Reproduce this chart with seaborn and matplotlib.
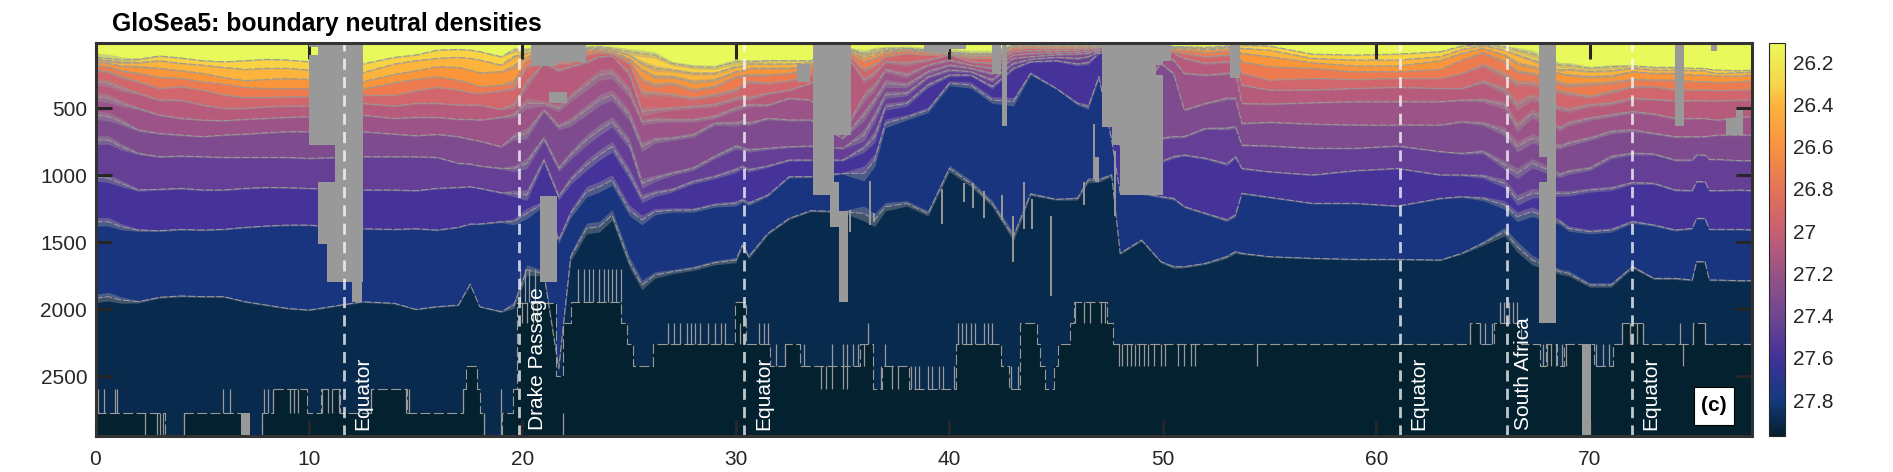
import numpy as np
import pandas as pd
import matplotlib
matplotlib.use("Agg")
import matplotlib.pyplot as plt
from matplotlib.colors import LinearSegmentedColormap, Normalize
from matplotlib.cm import ScalarMappable
from matplotlib.patches import Rectangle
import seaborn as sns

section_x = [0,0.6,1.2,2,3,4,5,6,7,8,9,10,12.5,14,15,16,17,17.55,18,19,19.6,20.2,21,21.7,22.26,23,23.6,24.2,25,25.6,26.2,27,28,29,30,30.3,30.6,31.5,32.5,33.5,35,36,36.5,37,38,39,40,41,42,43,43.8,45,46,46.5,47,47.6,48,49,49.9,50.5,51,52,53,53.4,53.7,55,57,59,61,63,64,65,66,66.6,67.3,68.6,69,70,71,72,73,74,74.8,75,75.4,75.6,76,77,77.6]

# depth (m) of each neutral-density boundary along the section, shallow to deep
b0 = [119,127,139,134,109,124,144,152,144,134,139,152,169,119,102,65,60,65,77,114,65,65,40,52,65,45,40,52,77,90,102,164,189,194,152,152,152,144,144,144,40,90,65,52,50,65,77,90,90,25,25,25,25,25,25,25,25,25,27,40,40,45,35,40,27,35,95,102,95,77,35,25,40,65,90,177,177,201,189,184,194,194,201,201,201,209,214,219,214]
b1 = [134,144,159,159,144,164,177,194,209,201,201,214,234,169,144,127,119,127,139,177,114,90,65,77,90,55,50,65,102,164,201,214,239,239,189,184,169,169,169,159,45,102,85,65,55,70,82,95,95,30,30,30,30,30,30,30,30,30,32,45,45,55,45,50,52,65,127,139,139,114,60,35,65,102,139,214,209,226,219,201,214,214,219,219,219,229,239,234,229]
b2 = [152,164,184,189,201,219,239,269,293,284,276,284,301,246,219,189,194,214,234,226,189,114,90,102,114,65,60,77,127,214,264,264,301,289,226,219,201,201,201,177,50,127,102,77,60,75,87,102,100,35,35,35,35,35,35,35,35,35,37,52,52,65,55,60,90,114,159,184,184,144,90,52,102,164,189,239,251,264,259,226,239,239,249,251,251,254,259,259,251]
b3 = [177,189,219,239,269,276,301,318,343,351,351,351,356,308,284,264,289,313,338,326,301,139,114,127,139,75,70,90,139,289,326,313,363,338,264,259,251,251,239,201,55,152,127,90,70,85,92,114,109,45,40,42,42,40,40,40,40,40,42,65,65,85,70,75,152,189,201,226,226,209,139,85,152,226,239,313,326,318,308,284,289,289,298,301,301,303,308,301,293]
b4 = [214,226,264,301,351,338,363,400,418,418,413,413,403,403,368,343,363,383,388,368,351,189,139,164,164,102,85,95,164,388,388,400,425,400,363,326,301,313,293,251,60,214,177,114,90,102,97,127,127,60,52,55,52,50,45,45,45,45,52,77,90,114,102,102,239,289,276,284,276,276,239,177,251,313,313,376,388,413,376,338,338,363,363,363,363,363,368,363,358]
b5 = [301,313,351,388,438,438,475,500,500,488,483,483,463,483,463,463,475,475,475,507,475,313,164,214,189,152,114,109,239,525,512,500,488,475,425,418,425,388,363,313,65,289,239,152,164,139,102,152,164,77,70,70,65,60,50,50,50,50,65,90,127,164,152,152,326,363,363,351,343,351,351,301,363,475,413,500,512,475,463,425,433,443,443,443,443,443,445,438,438]
b6 = [413,425,463,500,550,575,587,592,582,575,567,562,550,575,567,567,582,582,587,567,550,463,463,500,418,326,251,239,376,600,587,587,587,562,500,488,475,475,425,438,687,413,338,214,251,177,139,177,201,102,90,85,80,75,60,55,239,239,102,139,239,251,239,239,463,468,458,450,450,450,438,438,475,637,537,649,612,575,550,525,542,575,575,575,575,582,587,567,562]
b7 = [550,562,600,662,687,699,711,699,692,682,674,674,674,692,704,694,711,731,744,786,711,687,512,637,600,512,438,400,550,786,736,724,699,612,612,600,612,575,587,587,724,550,438,313,326,226,177,201,239,127,114,100,95,90,70,60,363,363,164,239,512,463,425,425,612,604,617,624,624,624,600,612,674,786,724,786,761,724,674,662,687,711,711,711,711,706,699,699,699]
b8 = [736,736,786,836,861,856,861,866,866,866,866,873,861,861,861,866,910,915,930,948,948,910,724,948,848,736,662,600,761,1060,1022,985,948,861,786,798,811,798,786,781,798,699,562,400,388,264,214,226,289,164,134,119,127,114,80,65,612,612,724,711,711,649,649,637,774,781,798,798,781,823,836,823,923,985,910,997,973,948,861,836,841,886,886,848,848,881,881,890,890]
b9 = [1010,1022,1060,1109,1104,1097,1109,1109,1097,1090,1092,1097,1109,1109,1114,1097,1090,1085,1097,1129,1134,1147,886,1159,1035,923,848,786,985,1172,1134,1109,1047,1010,960,935,960,930,886,886,886,798,711,488,463,326,251,251,338,201,152,144,169,159,90,77,786,786,898,861,848,873,915,861,948,973,997,965,948,997,997,1005,1060,1184,1134,1134,1134,1109,1097,1055,1060,1109,1114,1047,1047,1114,1114,1109,1114]
b10 = [1346,1346,1383,1408,1413,1403,1408,1403,1388,1378,1371,1371,1398,1403,1398,1408,1388,1363,1363,1346,1346,1284,1209,1483,1284,1122,1085,1035,1259,1333,1271,1259,1259,1221,1209,1184,1209,1147,1010,1010,985,985,886,612,567,512,313,326,438,450,239,351,463,488,264,736,1134,1134,1159,1172,1234,1284,1333,1296,1134,1164,1209,1209,1229,1172,1159,1172,1221,1308,1271,1346,1396,1420,1408,1346,1371,1408,1396,1321,1321,1403,1403,1403,1408]
b11 = [1918,1905,1930,1943,1910,1900,1905,1905,1943,1968,1993,2005,1943,1955,2000,1980,1968,1813,1980,2017,1968,1706,1731,2440,1607,1396,1383,1296,1644,1818,1744,1719,1694,1652,1632,1520,1607,1433,1321,1264,1271,1284,1333,1234,1209,1284,948,1060,1209,1458,1139,1179,1172,1035,1035,997,1582,1483,1644,1682,1682,1657,1607,1570,1582,1607,1619,1627,1627,1632,1582,1507,1420,1532,1632,1719,1731,1818,1818,1682,1769,1769,1781,1644,1644,1781,1781,1786,1786]
# spread of the jagged boundary traces (m) at each section_x
scatter_m = [40,40,30,12,8,8,6,6,6,6,6,6,6,6,6,6,6,6,6,8,30,50,25,30,40,50,50,50,50,45,30,20,20,20,25,20,20,12,10,8,8,70,60,40,25,25,30,30,30,40,15,8,15,25,20,15,10,10,10,15,10,10,15,15,10,6,6,6,6,6,8,20,40,50,45,25,25,20,20,15,10,10,8,8,8,6,6,6,6]

# deepest boundary: model-level staircase (start of each step, depth of step)
stair_x = [0,3.25,4.15,6.8,7.8,8.3,9.9,10.55,11.46,12.9,14.6,17.2,17.34,17.85,18.0,18.2,19.05,19.55,19.75,21.55,21.9,22.26,24.6,24.9,25.2,26.1,29.98,30.45,31.6,32.3,33.0,35.8,36.4,36.85,38.1,40.3,42.4,42.8,43.3,44.1,44.25,44.5,44.9,45.1,45.67,45.85,47.4,47.66,64.4,64.85,65.5,66.8,67.65,67.95,68.45,68.8,70.2,71.1,71.5,72.5,74.85,75.4,77.6]
stair_d = [2771,2945,2771,2945,2771,2597,2771,2597,2771,2597,2771,2597,2423,2597,2771,2945,2771,2597,1950,2500,2100,1943,2100,2259,2423,2259,1943,2259,2423,2259,2423,2259,2597,2423,2597,2259,2423,2597,2100,2259,2423,2597,2423,2259,2100,1943,2100,2259,2100,2259,2100,2259,2423,2259,2423,2259,2423,2259,2100,2259,2100,2259,2259]

# columns of ragged grey level-crossings between two model levels
rag_2597 = [0.1,0.4,0.9,1.0,5.95,6.3,7.9,8.1,8.3,9.1,9.3,9.5,10.6,10.9,11.1,11.4,12.9,14.55,14.7,17.2,19.0]
rag_2771 = [2.3,2.9,3.0,3.15,4.15,7.8,18.2,19.0,21.9]
rag_2100 = [26.8,27.1,27.4,27.7,27.9,28.1,28.3,28.7,29,29.3,29.5,30.2,31.1,31.3,31.5,36.2,40.4,40.6,40.8,41,41.2,41.6,41.8,42,64.4,64.85,65.1,65.4,71.5,71.9,72.2,72.5,74.25,74.85,75.4]
rag_1943 = [45.9,46.3,46.6,47.1,47.3,65.8,66,66.2,66.4,66.6,20.0,20.2,20.5,20.7]
rag_1700 = [22.6,22.9,23.1,23.3,23.6,23.8,24.0,24.2,24.4,24.6,19.9,20.1,20.3,20.6]
rag_2259 = [31.9,32.3,33.2,34.5,35,35.2,35.5,35.7,36,37,47.95,48.1,48.3,48.5,48.7,48.9,49.1,49.3,49.6,49.9,50.1,50.7,51,51.3,51.5,54.4,67.8,68,68.2,68.4,68.7,68.9,70.3,70.6,70.9,74.35]
rag_2423 = [34,34.2,34.5,35,35.2,36.8,37.3,37.6,38.2,38.4,38.6,39,39.2,39.5,39.7,40.2,42.9,43.2]

# ragged spikes of the deepest traced density surface
spike_x = [35.36,36.3,36.45,39.65,40.67,41.1,41.6,42.46,43.0,43.5,43.86,44.75,46.3,46.76,47.77]
spike_top = [1259,1040,1284,1100,1060,1060,1120,1150,1300,1050,1180,1300,1050,620,820]
spike_bot = [1420,1370,1350,1360,1200,1240,1320,1330,1650,1400,1400,1900,1220,1030,1300]

# missing data blocks: x start, x end, depth start, depth end
gap_x0 = [10.0,10.42,10.0,11.22,10.42,10.83,12.03,6.8,20.4,21.6,21.24,20.82,32.84,33.6,34.6,34.4,34.6,34.82,38.8,40.0,42.0,42.45,46.8,47.15,47.6,48.0,49.7,49.7,50.03,53.15,67.62,68.01,67.62,74.0,76.4,76.84,75.7,69.62]
gap_x1 = [10.42,11.22,10.42,12.53,11.22,11.22,12.47,7.24,21.6,22.96,22.07,21.63,33.49,34.6,35.4,34.65,34.82,35.24,40.0,40.8,42.4,42.7,47.02,47.6,48.0,49.7,50.03,50.03,50.4,53.6,68.43,68.43,68.43,74.42,77.2,77.2,75.94,70.04]
gap_d0 = [10,10,105,10,1047,1513,1794,2771,10,10,375,1155,170,10,10,1147,1047,1268,10,10,10,10,860,10,10,10,10,250,10,10,10,860,1047,10,575,513,10,2259]
gap_d1 = [45,774,774,1794,1513,1794,1943,2945,184,152,463,1794,300,1147,700,1388,1388,1943,80,60,240,630,1047,637,774,1147,177,1147,150,276,860,1047,2100,632,700,575,75,2945]

marker_x = [11.64,19.83,30.4,61.12,66.1,72.0]
label_x = [12.5,20.7,31.3,61.97,66.9,72.85]
label_txt = ["Equator","Drake Passage","Equator","Equator","South Africa","Equator"]

layer_colors = ["#E8FA5B","#FAD345","#FDB43C","#FA9639","#EE7A50","#D1666C","#B65B7C","#9C5388","#7E4C8E","#643F95","#45339A","#19357F","#082A4D","#03212F"]
cbar_levels = [26.107,26.3,26.4,26.6,26.8,27.0,27.2,27.4,27.6,27.8,27.97]
cbar_colors = ["#E8FA5B","#F6D54A","#FDB33D","#F99240","#E47358","#C75F71","#985287","#6F4790","#42329A","#143A7E","#04202E"]
depth_ticks = [500,1000,1500,2000,2500]
dist_ticks = [0,10,20,30,40,50,60,70]
cbar_ticks = [26.2,26.4,26.6,26.8,27,27.2,27.4,27.6,27.8]
cbar_ticklabels = ["26.2","26.4","26.6","26.8","27","27.2","27.4","27.6","27.8"]

sns.set_theme(style="white")
plt.rcParams["font.family"] = ["Liberation Sans", "DejaVu Sans"]
W, H = 1893, 472
fig = plt.figure(figsize=(W/100, H/100), dpi=100)
ax = fig.add_axes([95.5/W, 1-436/H, (1752-95.5)/W, (436-42.7)/H])
cax = fig.add_axes([1769/W, 1-436/H, 16/W, (436-42.7)/H])

XMAX, DTOP, DBOT = 77.6, 10, 2945
ax.set_facecolor(layer_colors[0])
boundaries = [b0,b1,b2,b3,b4,b5,b6,b7,b8,b9,b10,b11]
GREY = "#999999"
x = np.array(section_x, float)
spread = np.array(scatter_m, float)
for i, b in enumerate(boundaries):
    ax.fill_between(x, b, DBOT, color=layer_colors[i+1], lw=0, zorder=1+i*0.01)
ax.fill_between(stair_x, stair_d, DBOT, step="post", color=layer_colors[13], lw=0, zorder=1.5)
prev = np.zeros_like(x)
for b in boundaries:
    d = np.array(b, float)
    f = np.minimum(spread*0.8, 0.3*np.clip(d-prev, 0, None))
    prev = d
    ax.fill_between(x, d-f, d+f, color=GREY, alpha=0.4, lw=0, zorder=2)
    df = pd.DataFrame({"x": x, "d": d})
    sns.lineplot(data=df, x="x", y="d", ax=ax, color=GREY, lw=0.75, linestyle=(0,(7,2)),
                 estimator=None, sort=False, errorbar=None, zorder=2.1)
ax.step(stair_x, stair_d, where="post", color=GREY, lw=0.8, linestyle=(0,(9,3)), zorder=2.2)
levels = [(rag_1700,1700,1943),(rag_1943,1943,2100),(rag_2100,2100,2259),(rag_2259,2259,2423),(rag_2423,2423,2597),(rag_2597,2597,2771),(rag_2771,2771,2945)]
for xs, d0, d1 in levels:
    ax.vlines(xs, d0, d1, color=GREY, lw=0.9, zorder=2.2)
ax.vlines(spike_x, spike_top, spike_bot, color=GREY, lw=1.4, zorder=2.2)
for x0, x1, d0, d1 in zip(gap_x0, gap_x1, gap_d0, gap_d1):
    ax.add_patch(Rectangle((x0, d0), x1-x0, d1-d0, fc=GREY, ec="none", zorder=3))
for xm in marker_x:
    ax.axvline(xm, color="white", lw=2.0, alpha=0.75, linestyle=(0,(4,2.6)), zorder=4)
for xl, t in zip(label_x, label_txt):
    ax.text(xl, 2900, t, rotation=90, color="white", fontsize=15, ha="center", va="bottom", zorder=5)
ax.add_patch(Rectangle((74.9,2578),1.86,285, fc="white", ec="black", lw=0.8, zorder=6))
ax.text(75.83,2720,"(c)",fontsize=15,fontweight="bold",color="black",ha="center",va="center",zorder=7)

ax.set_xlim(0, XMAX); ax.set_ylim(DBOT, DTOP)
ax.set_xticks(dist_ticks); ax.set_yticks(depth_ticks)
ax.set_xlabel(""); ax.set_ylabel("")
ax.set_axisbelow(False)
ax.tick_params(axis="both", which="major", direction="in", top=True, right=True, bottom=True, left=True,
               length=11.5, width=2.2, color="#262626", labelcolor="#262626", labelsize=15, zorder=8)
ax.tick_params(axis="x", pad=10)
ax.tick_params(axis="y", pad=6)
for s in ax.spines.values():
    s.set_color("#333333"); s.set_linewidth(2.2); s.set_visible(True); s.set_zorder(9)

stops = [(v-cbar_levels[0])/(cbar_levels[-1]-cbar_levels[0]) for v in cbar_levels]
cmap = LinearSegmentedColormap.from_list("section", list(zip(stops, cbar_colors)), N=256)
sm = ScalarMappable(norm=Normalize(cbar_levels[0], cbar_levels[-1]), cmap=cmap)
cb = fig.colorbar(sm, cax=cax)
cax.invert_yaxis()
cb.set_ticks(cbar_ticks); cb.set_ticklabels(cbar_ticklabels)
cax.tick_params(axis="y", direction="in", length=2.5, width=0.8, color="#262626", labelcolor="#262626", labelsize=15, pad=6, right=True)
cb.outline.set_edgecolor("#262626"); cb.outline.set_linewidth(0.8)

fig.text(112/W, 1-31/H, "GloSea5: boundary neutral densities", fontsize=17.8, fontweight="bold", color="black", ha="left", va="baseline")
fig.savefig("out.png", dpi=100)
